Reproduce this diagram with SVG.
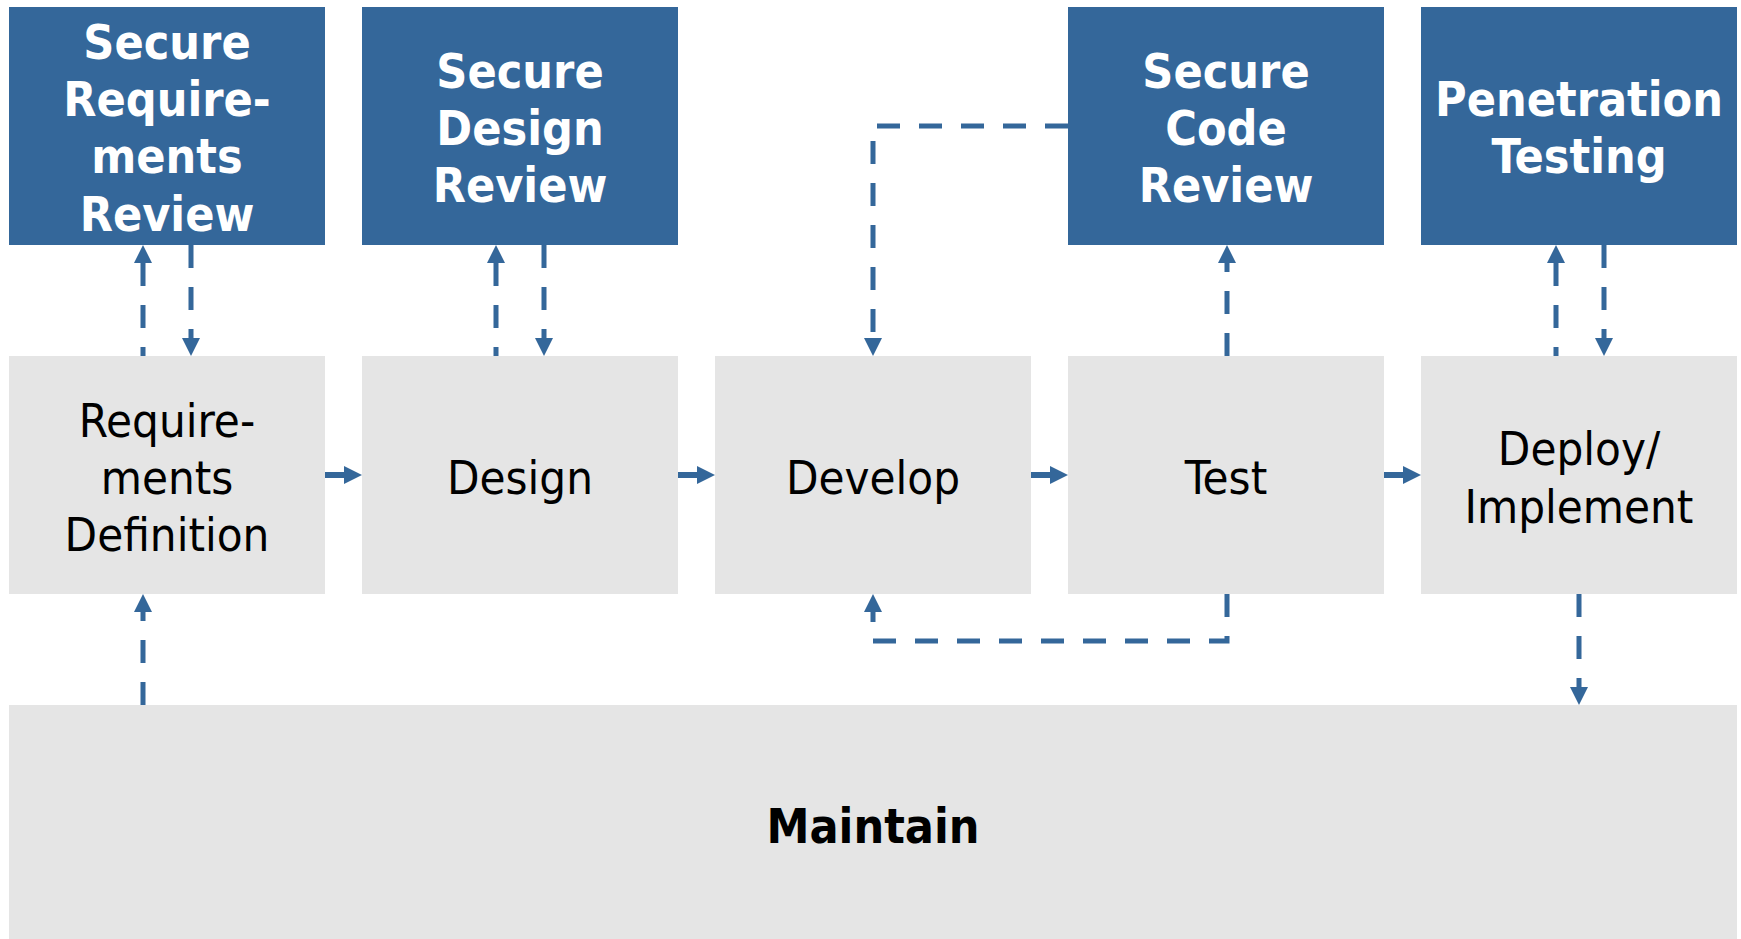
<svg xmlns="http://www.w3.org/2000/svg" width="1741" height="939" viewBox="0 0 1741 939">
  <style>
    .review { fill: #34679a; }
    .phase { fill: #e5e5e5; }
    .t-bold { font-family: Tahoma, "DejaVu Sans", Verdana, sans-serif; font-stretch: condensed; font-weight: bold; font-size: 48px; fill: #ffffff; text-anchor: middle; }
    .t-phase { font-family: Tahoma, "DejaVu Sans", Verdana, sans-serif; font-stretch: condensed; font-size: 47px; fill: #000000; text-anchor: middle; }
    .t-main { font-family: Tahoma, "DejaVu Sans", Verdana, sans-serif; font-stretch: condensed; font-weight: bold; font-size: 48px; fill: #000000; text-anchor: middle; }
    .dash { fill: none; stroke: #34679a; stroke-width: 5; stroke-dasharray: 23 19; }
    .flow { fill: none; stroke: #34679a; stroke-width: 6; }
  </style>
  <defs>
    <marker id="head" markerUnits="userSpaceOnUse" markerWidth="18" markerHeight="18" refX="0" refY="9" orient="auto-start-reverse">
      <path d="M0,0 L18,9 L0,18 z" fill="#34679a"/>
    </marker>
  </defs>

  <rect width="1741" height="939" fill="#ffffff"/>

  <!-- review activities -->
  <g id="secure-requirements-review">
    <rect class="review" x="9" y="7" width="316" height="238"/>
    <text class="t-bold" x="167" y="59">Secure</text>
    <text class="t-bold" x="167" y="116">Require-</text>
    <text class="t-bold" x="167" y="173">ments</text>
    <text class="t-bold" x="167" y="231">Review</text>
  </g>
  <g id="secure-design-review">
    <rect class="review" x="362" y="7" width="316" height="238"/>
    <text class="t-bold" x="520" y="88">Secure</text>
    <text class="t-bold" x="520" y="145">Design</text>
    <text class="t-bold" x="520" y="202">Review</text>
  </g>
  <g id="secure-code-review">
    <rect class="review" x="1068" y="7" width="316" height="238"/>
    <text class="t-bold" x="1226" y="88">Secure</text>
    <text class="t-bold" x="1226" y="145">Code</text>
    <text class="t-bold" x="1226" y="202">Review</text>
  </g>
  <g id="penetration-testing">
    <rect class="review" x="1421" y="7" width="316" height="238"/>
    <text class="t-bold" x="1579" y="116">Penetration</text>
    <text class="t-bold" x="1579" y="173">Testing</text>
  </g>

  <!-- lifecycle phases -->
  <g id="requirements-definition">
    <rect class="phase" x="9" y="356" width="316" height="238"/>
    <text class="t-phase" x="167" y="437">Require-</text>
    <text class="t-phase" x="167" y="494">ments</text>
    <text class="t-phase" x="167" y="551">Definition</text>
  </g>
  <g id="design">
    <rect class="phase" x="362" y="356" width="316" height="238"/>
    <text class="t-phase" x="520" y="494">Design</text>
  </g>
  <g id="develop">
    <rect class="phase" x="715" y="356" width="316" height="238"/>
    <text class="t-phase" x="873" y="494">Develop</text>
  </g>
  <g id="test">
    <rect class="phase" x="1068" y="356" width="316" height="238"/>
    <text class="t-phase" x="1226" y="494">Test</text>
  </g>
  <g id="deploy-implement">
    <rect class="phase" x="1421" y="356" width="316" height="238"/>
    <text class="t-phase" x="1579" y="465">Deploy/</text>
    <text class="t-phase" x="1579" y="523">Implement</text>
  </g>
  <g id="maintain">
    <rect class="phase" x="9" y="705" width="1728" height="238"/>
    <text class="t-main" x="873" y="843">Maintain</text>
  </g>

  <!-- connectors -->
  <g id="connectors">
    <!-- phase to phase -->
    <path class="flow" d="M325,475 L344,475" marker-end="url(#head)"/>
    <path class="flow" d="M678,475 L697,475" marker-end="url(#head)"/>
    <path class="flow" d="M1031,475 L1050,475" marker-end="url(#head)"/>
    <path class="flow" d="M1384,475 L1403,475" marker-end="url(#head)"/>

    <!-- requirements <-> review -->
    <path class="dash" d="M143,263 L143,356" marker-start="url(#head)"/>
    <path class="dash" d="M191,245 L191,338" marker-end="url(#head)"/>
    <!-- design <-> review -->
    <path class="dash" d="M496,263 L496,356" marker-start="url(#head)"/>
    <path class="dash" d="M544,245 L544,338" marker-end="url(#head)"/>
    <!-- test -> code review -->
    <path class="dash" d="M1227,356 L1227,263" marker-end="url(#head)"/>
    <!-- code review -> develop -->
    <path class="dash" d="M1068,126 L873,126 L873,338" marker-end="url(#head)"/>
    <!-- test -> develop -->
    <path class="dash" d="M1227,594 L1227,641 L873,641 L873,612" marker-end="url(#head)"/>
    <!-- deploy <-> penetration testing -->
    <path class="dash" d="M1556,263 L1556,356" marker-start="url(#head)"/>
    <path class="dash" d="M1604,245 L1604,338" marker-end="url(#head)"/>
    <!-- deploy -> maintain -->
    <path class="dash" d="M1579,594 L1579,687" marker-end="url(#head)"/>
    <!-- maintain -> requirements -->
    <path class="dash" d="M143,705 L143,612" marker-end="url(#head)"/>
  </g>
</svg>
